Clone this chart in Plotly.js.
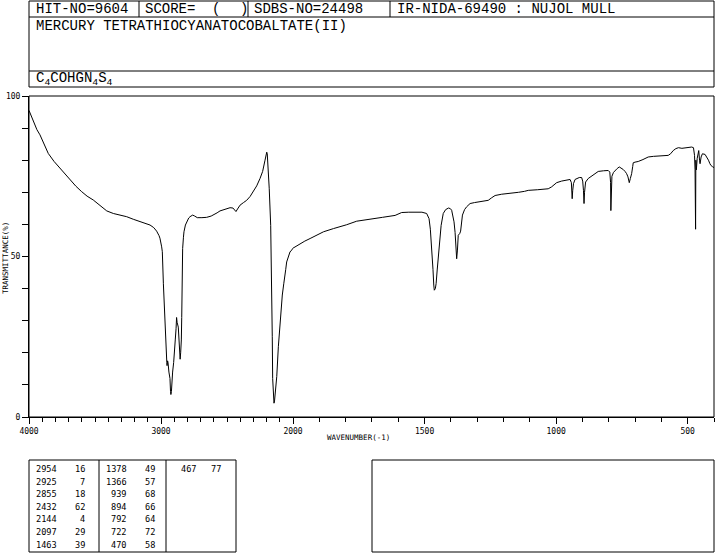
<!DOCTYPE html>
<html>
<head>
<meta charset="utf-8">
<script src="https://cdn.plot.ly/plotly-3.0.1.min.js"></script>
<style>
html,body{margin:0;padding:0;background:#fff;}
#chart{width:715px;height:553px;}
</style>
</head>
<body>
<div id="chart"></div>
<script>
// ---- Spectrum data (wavenumber cm-1, transmittance %) ----
const wavenumber = [
4000,3990,3967,3940,3917,3885,3854,3810,3765,3730,3689,3645,3601,3560,3513,3460,3411,3361,3310,3260,
3210,3159,3120,3083,3055,3033,3015,3008,2995,2990,2982,2975,2968,2962,2956,2954,2950,2947,2940,2932,
2928,2925,2921,2916,2912,2904,2899,2892,2886,2882,2878,2869,2864,2858,2855,2851,2846,2843,2840,2836,
2830,2826,2815,2806,2790,2780,2760,2745,2725,2690,2654,2620,2604,2575,2553,2510,2477,2455,2440,2432,
2420,2401,2375,2351,2325,2301,2275,2250,2230,2212,2203,2199,2195,2190,2180,2169,2161,2157,2154,2148,
2144,2140,2134,2123,2111,2102,2098,2095,2090,2081,2070,2061,2055,2048,2035,2023,2010,2000,1985,1973,
1955,1935,1910,1884,1846,1820,1796,1758,1730,1701,1660,1612,1587,1560,1536,1510,1492,1483,1478,1473,
1468,1465,1463,1459,1456,1452,1447,1441,1437,1429,1420,1409,1402,1397,1392,1388,1384,1381,1378,1375,
1372,1366,1363,1356,1348,1340,1327,1310,1289,1270,1258,1245,1232,1207,1180,1143,1120,1106,1070,1030,
1017,1005,998,979,960,947,942,940,939,937,934,928,922,912,903,899,896,894,892,888,
878,859,840,820,802,796,793,792,791,788,782,776,768,760,752,745,738,732,727,722,
718,713,709,707,700,688,670,650,630,612,590,574,565,555,545,535,522,510,497,485,
478,474,472,470,469,467,464,461,458,455,453,449,444,434,427,421,416,412,406,400
];
const transmittance = [
95.5,94.5,92,89.5,87.9,84.8,82.1,79.6,77.5,75.6,73.8,71.9,70.2,68.8,67.6,65.8,64.2,63.4,62.9,62.4,
61.6,60.8,60.4,59.8,59,57.9,56.5,55.7,53,51.5,41.5,33.9,25,23.5,17,16,17.5,17,14,12,
8,7,8,12,14,17,19,24,27.5,31,29.5,28,23,19.5,18,20,24,31,42,52.5,
56,57.7,59.8,60.8,62,62.4,62.9,62.6,62.1,62.1,62.2,62.6,62.9,63.6,64.2,64.8,65.2,65.1,64.3,64,
64.8,66,66.8,67.5,68.7,70.1,72,74.3,76.5,80,82.2,82.5,82,79,71.1,59.7,42,25,12,6,
4.3,5,7.4,12.6,21.9,27,28.6,29.5,31.5,38,41.5,43.6,46,48.3,50.2,51.4,52,52.6,53.4,54,
54.8,55.6,56.6,57.7,58.7,59.3,59.9,61,61.3,61.8,62.2,62.8,63.7,63.8,63.9,63.8,63.4,61.8,58.5,53.5,
46,41.1,39.5,40,41.6,45.8,51.4,57,59.7,63.4,64.6,65.1,64.9,64.4,62.5,60.8,57.5,54.5,49.3,52,
56.6,57.2,57.9,62.9,64.6,65.5,66.5,66.8,67,67.2,67.5,68.3,69,69.4,69.6,70,70.3,70.6,70.8,71.1,
71.7,72.6,73,73.5,73.7,74,73,70.5,68,70.5,72.7,74,74.3,74.6,74.6,73.5,70.5,66.5,70,73.2,
74.3,75.5,76.5,76.7,76.8,76.3,73,64.3,72,75,76.2,76.8,77.4,77.9,77.6,77.1,76.5,75.8,74.8,73,
74.3,75.8,78,79.2,79.4,79.6,80.2,81,81.2,81.3,81.4,81.5,82,83,83.6,83.9,83.7,83.8,84,84.1,
83.9,81.5,77,58.5,80,77,80.5,82.5,83,80,78.9,81,82,81.8,81,80,79,78.4,78,77.7
];

// ---- Peak table ----
const peakWavenumbers = [2954,2925,2855,2432,2144,2097,1463,1378,1366,939,894,792,722,470,467];
const peakTransmittance = [16,7,18,62,4,29,39,49,57,68,66,64,72,58,77];

// ---- Header texts ----
const hitNo = "HIT-NO=9604";
const scoreLabel = "SCORE=";
const sdbsNo = "SDBS-NO=24498";
const irInfo = "IR-NIDA-69490 : NUJOL MULL";
const compoundName = "MERCURY TETRATHIOCYANATOCOBALTATE(II)";
const formulaText = "C<sub>4</sub>COHGN<sub>4</sub>S<sub>4</sub>";

// ---- Axis tick labels ----
const xTickValsHigh = [4000,3000,2000];
const xTickTextHigh = ["4000","3000","2000"];
const xTickValsLow = [1500,1000,500];
const xTickTextLow = ["1500","1000","500"];
const yTickVals = [0,50,100];
const yTickText = ["0","50","100"];

// ---- Geometry helpers (pixel -> paper) ----
const L = 29, R = 714, T = 96, B = 417;
const px = x => (x - L) / (R - L);
const py = y => (B - y) / (B - T);
const split = 264 / 685;

const hiX = [], hiY = [], loX = [], loY = [];
wavenumber.forEach((w, i) => {
  if (w >= 2000) { hiX.push(w); hiY.push(transmittance[i]); }
  if (w <= 2000) { loX.push(w); loY.push(transmittance[i]); }
});

const lineStyle = {color: "#000", width: 1};
const traces = [
  {x: hiX, y: hiY, xaxis: "x", yaxis: "y", type: "scatter", mode: "lines", line: lineStyle, hoverinfo: "skip"},
  {x: loX, y: loY, xaxis: "x2", yaxis: "y", type: "scatter", mode: "lines", line: lineStyle, hoverinfo: "skip"}
];

const mono = "DejaVu Sans Mono, Liberation Mono, monospace";
const headMono = "Liberation Mono, DejaVu Sans Mono, monospace";
const tickFont = {family: mono, size: 8, color: "#000"};

const shapes = [];
function rect(x0, y0, x1, y1) {
  shapes.push({type: "rect", xref: "paper", yref: "paper", x0: px(x0), x1: px(x1), y0: py(y0), y1: py(y1),
    line: {color: "#000", width: 1}, fillcolor: "rgba(0,0,0,0)", layer: "above"});
}
function line(x0, y0, x1, y1) {
  shapes.push({type: "line", xref: "paper", yref: "paper", x0: px(x0), x1: px(x1), y0: py(y0), y1: py(y1),
    line: {color: "#000", width: 1}, layer: "above"});
}
// header frame
rect(29, 1, 714, 87);
line(29, 17, 714, 17);
line(29, 71, 714, 71);
line(139, 1, 139, 17);
line(248, 1, 248, 17);
line(390, 1, 390, 17);
// plot frame
rect(29, 96, 714, 417);
// peak table frame
rect(29, 460, 236, 552);
line(99, 460, 99, 552);
line(166, 460, 166, 552);
// empty right box
rect(372, 460, 714, 552);

const annotations = [];
function txt(text, x, y, size, anchor, extra, fam) {
  annotations.push(Object.assign({text: text, xref: "paper", yref: "paper", x: px(x), y: py(y),
    xanchor: anchor || "left", yanchor: "middle", showarrow: false,
    font: {family: fam || mono, size: size, color: "#000"}}, extra || {}));
}
const hsz = 14;
txt(hitNo, 34, 9, hsz, "left", {}, headMono);
txt(scoreLabel, 143, 9, hsz, "left", {}, headMono);
txt("(", 210, 9, hsz, "left", {}, headMono);
txt(")", 238, 9, hsz, "left", {}, headMono);
txt(sdbsNo, 252, 9, hsz, "left", {}, headMono);
txt(irInfo, 395, 9, hsz, "left", {}, headMono);
txt(compoundName, 34, 26, hsz, "left", {}, headMono);
txt(formulaText, 34, 79, hsz, "left", {}, headMono);

// axis titles
txt("TRANSMITTANCE(%)", 5, 258, 7.5, "center", {textangle: -90});
txt("WAVENUMBER(-1)", 358, 438, 7.5, "center");

// peak table
const colWnRight = [59, 129, 199];
const colTRight = [87, 157, 223];
peakWavenumbers.forEach((w, i) => {
  const col = Math.floor(i / 7), row = i % 7;
  const y = 469 + row * 12.6;
  txt(String(w), colWnRight[col], y, 8.6, "right");
  txt(String(peakTransmittance[i]), colTRight[col], y, 8.6, "right");
});

const axisCommon = {
  ticks: "outside", ticklen: 6, tickwidth: 1, tickcolor: "#000",
  showgrid: false, zeroline: false, showline: true, linecolor: "#000", linewidth: 1,
  tickfont: tickFont, fixedrange: true, tickmode: "array"
};

const layout = {
  width: 715, height: 553,
  margin: {l: L, r: 715 - R, t: T, b: 553 - B, pad: 0},
  paper_bgcolor: "#fff", plot_bgcolor: "#fff",
  showlegend: false, hovermode: false,
  xaxis: Object.assign({}, axisCommon, {domain: [0, split], range: [4000, 2000], anchor: "y",
    tickvals: xTickValsHigh, ticktext: xTickTextHigh,
    minor: {dtick: 100, tick0: 0, ticks: "outside", ticklen: 4, tickcolor: "#000", showgrid: false}}),
  xaxis2: Object.assign({}, axisCommon, {domain: [split, 1], range: [2000, 400], anchor: "y",
    tickvals: xTickValsLow, ticktext: xTickTextLow,
    minor: {dtick: 100, tick0: 0, ticks: "outside", ticklen: 4, tickcolor: "#000", showgrid: false}}),
  yaxis: Object.assign({}, axisCommon, {domain: [0, 1], range: [0, 100], anchor: "x",
    tickvals: yTickVals, ticktext: yTickText,
    minor: {dtick: 10, tick0: 0, ticks: "outside", ticklen: 6, tickcolor: "#000", showgrid: false}}),
  shapes: shapes,
  annotations: annotations
};

Plotly.newPlot("chart", traces, layout, {staticPlot: true, displayModeBar: false});
</script>
</body>
</html>
